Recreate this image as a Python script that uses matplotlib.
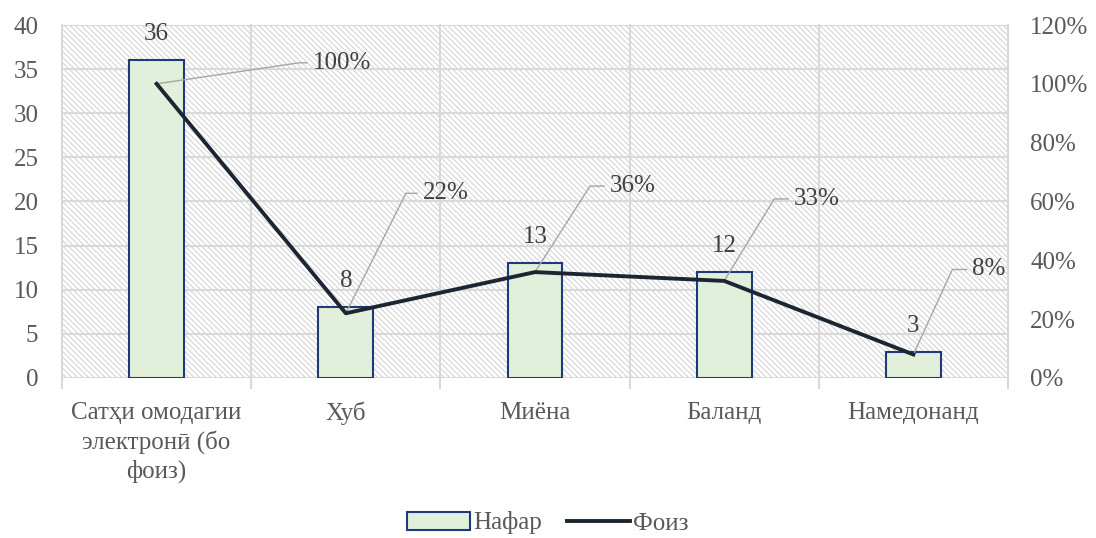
import numpy as np
import matplotlib
matplotlib.use("Agg")
import matplotlib.pyplot as plt
from matplotlib.patches import Rectangle
from matplotlib.ticker import FuncFormatter, MultipleLocator

categories = ["Сатҳи омодагии\nэлектронӣ (бо\nфоиз)", "Хуб", "Миёна", "Баланд", "Намедонанд"]
count_values = [36, 8, 13, 12, 3]
percent_values = [1.00, 0.22, 0.36, 0.33, 0.08]
percent_labels = ["100%", "22%", "36%", "33%", "8%"]
series_names = ["Нафар", "Фоиз"]

# label offsets (pixels) and leader angles for percent labels
pct_offsets = [(156, 21), (77, 120), (75, 86), (70, 82), (59, 85)]
pct_angles = [8.4, 63.4, 57.4, 58.6, 65.4]

FS = 18

plt.rcParams['font.family'] = ['Liberation Serif', 'DejaVu Serif']
plt.rcParams['hatch.linewidth'] = 0.7
plt.rcParams['hatch.color'] = '#d0d0d0'

fig = plt.figure(figsize=(10.96, 5.38), dpi=100)
ax = fig.add_axes([62/1096, 1-378/538, (1008-62)/1096, (378-25)/538])
ax2 = ax.twinx()

x = np.arange(len(categories))
ax.set_xlim(-0.5, len(categories) - 0.5)
ax.set_ylim(0, 40)
ax2.set_ylim(0, 1.2)

# hatched background
bg = Rectangle((0, 0), 1, 1, transform=ax.transAxes, facecolor='white',
               edgecolor='#d0d0d0', hatch='\\' * 6, lw=0, zorder=0)
ax.add_patch(bg)

# grid lines
for yv in np.arange(0, 41, 5):
    ax.axhline(yv, color='#d9d9d9', lw=1.5, zorder=1)
for xv in np.arange(-0.5, len(categories), 1.0):
    ax.plot([xv, xv], [0, 40], color='#d9d9d9', lw=1.5, zorder=1, clip_on=False)

ax.set_xticks(np.arange(-0.5, len(categories), 1.0), minor=False)
ax.set_xticks(x, minor=True)
ax.tick_params(axis='x', which='major', length=8, color='#d9d9d9', labelbottom=False, width=1.5)
ax.tick_params(axis='x', which='minor', length=0, labelsize=FS, labelcolor='#595959', pad=17)
ax.set_xticklabels(categories, minor=True, linespacing=1.33)

ax.bar(x, count_values, width=0.29, color='#e2efda', edgecolor='#1f3a7a',
       lw=1.5, zorder=3, label=series_names[0])
for xi, v in zip(x, count_values):
    ax.annotate(str(v), (xi, v), xytext=(0, 15), textcoords='offset pixels',
                ha='center', va='bottom', fontsize=FS, color='#404040', zorder=6)

ax2.plot(x, percent_values, color='#1c2633', lw=2.8, zorder=4, label=series_names[1])
for xi, p, lab, off, ang in zip(x, percent_values, percent_labels, pct_offsets, pct_angles):
    ax2.annotate(lab, (xi, p), xytext=off, textcoords='offset pixels',
                 ha='left', va='center', fontsize=FS, color='#404040',
                 arrowprops=dict(arrowstyle='-', color='#a6a6a6', lw=1.0,
                                 shrinkA=2, shrinkB=0, relpos=(0, 0.5),
                                 connectionstyle=f"angle,angleA=0,angleB={ang},rad=0"))

ax.yaxis.set_major_locator(MultipleLocator(5))
ax2.yaxis.set_major_locator(MultipleLocator(0.2))
ax2.yaxis.set_major_formatter(FuncFormatter(lambda v, p: f"{int(round(v*100))}%"))
ax.tick_params(axis='y', length=0, labelsize=FS, labelcolor='#595959', pad=17)
ax2.tick_params(axis='y', length=0, labelsize=FS, labelcolor='#595959', pad=16)

for a in (ax, ax2):
    for s in a.spines.values():
        s.set_visible(False)
ax2.patch.set_visible(False)

h1, l1 = ax.get_legend_handles_labels()
h2, l2 = ax2.get_legend_handles_labels()
fig.legend(h1 + h2, l1 + l2, loc='center', bbox_to_anchor=(548/1096, 1-523/538),
           ncol=2, frameon=False, fontsize=FS, labelcolor='#595959',
           handlelength=2.5, handletextpad=0.15, columnspacing=1.0)

fig.savefig('out.png', dpi=100)
